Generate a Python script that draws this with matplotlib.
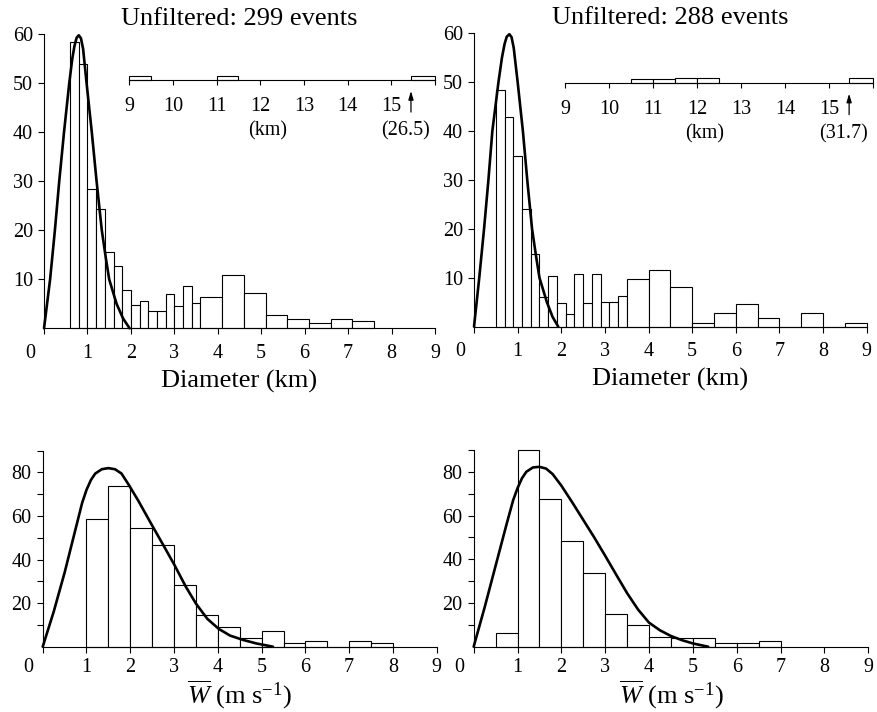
"""Crater-diameter and mean-updraft histograms, unfiltered sets."""
import matplotlib
matplotlib.use("Agg")
import matplotlib.pyplot as plt
import matplotlib.transforms as mtransforms
import numpy as np

plt.rcParams["font.family"] = ["Liberation Serif", "DejaVu Serif"]
plt.rcParams["mathtext.fontset"] = "custom"
plt.rcParams["mathtext.rm"] = "Liberation Serif"
plt.rcParams["mathtext.it"] = "Liberation Serif:italic"

# --- diameter histograms (km) ---
DIAM_EDGES_A = [0.6, 0.8, 1.0, 1.2, 1.4, 1.6, 1.8, 2.0, 2.2, 2.4, 2.6, 2.8,
                3.0, 3.2, 3.4, 3.6, 4.1, 4.6, 5.1, 5.6, 6.1, 6.6, 7.1, 7.6]
DIAM_COUNTS_A = [58.5, 54.0, 28.5, 24.3, 15.6, 12.8, 7.9, 4.7, 5.6, 3.6, 3.6,
                 7.1, 4.6, 8.7, 5.2, 6.3, 10.9, 7.2, 2.7, 1.8, 1.1, 1.8, 1.4]
DIAM_EDGES_B = [0.5, 0.7, 0.9, 1.1, 1.3, 1.5, 1.7, 1.9, 2.1, 2.3, 2.5, 2.7,
                2.9, 3.1, 3.3, 3.5, 4.0, 4.5, 5.0, 5.5, 6.0, 6.5, 7.0, 7.5,
                8.0, 8.5, 9.0]
DIAM_COUNTS_B = [48.3, 42.8, 35.0, 24.1, 14.9, 6.0, 10.4, 4.8, 2.5, 10.8, 4.9,
                 10.8, 5.1, 5.1, 6.3, 9.7, 11.5, 8.1, 0.8, 2.7, 4.6, 1.8, 0.0,
                 2.7, 0.0, 0.8]

# fitted diameter distributions
DIAM_FIT_X_A = [0.0, 0.07, 0.14, 0.25, 0.35, 0.46, 0.58, 0.65, 0.70, 0.75, 0.80,
                0.85, 0.90, 0.98, 1.10, 1.21, 1.33, 1.42, 1.50, 1.67, 1.82, 1.97]
DIAM_FIT_Y_A = [0.0, 5.0, 10.0, 20.0, 30.0, 40.0, 50.0, 55.0, 57.6, 59.3, 59.8,
                59.2, 57.0, 50.0, 40.0, 30.0, 20.0, 14.5, 10.0, 5.0, 2.0, 0.0]
DIAM_FIT_X_B = [0.0, 0.06, 0.12, 0.23, 0.33, 0.42, 0.56, 0.64, 0.70, 0.75, 0.81,
                0.86, 0.91, 1.00, 1.12, 1.22, 1.33, 1.42, 1.50, 1.67, 1.80, 1.93]
DIAM_FIT_Y_B = [0.0, 5.0, 10.0, 20.0, 30.0, 40.0, 50.0, 55.0, 57.8, 59.3, 59.8,
                59.2, 57.0, 50.0, 40.0, 30.0, 20.0, 14.5, 10.0, 5.0, 2.0, 0.0]

# large-diameter tail shown on the 9-16 km strip
TAIL_EDGES_A = [(9.0, 9.5), (11.0, 11.5), (15.45, 16.0)]
TAIL_COUNTS_A = [0.8, 0.8, 0.9]
TAIL_EDGES_B = [(10.5, 11.0), (11.0, 11.5), (11.5, 12.0), (12.0, 12.5), (15.45, 16.0)]
TAIL_COUNTS_B = [0.7, 0.7, 0.9, 0.9, 0.9]
OUTLIER_A = "(26.5)"
OUTLIER_B = "(31.7)"

# --- mean updraft histograms (m/s) ---
W_EDGES_A = [1.0, 1.5, 2.0, 2.5, 3.0, 3.5, 4.0, 4.5, 5.0, 5.5, 6.0, 6.5, 7.0, 7.5, 8.0]
W_COUNTS_A = [58.5, 73.8, 54.3, 46.8, 28.2, 14.5, 8.9, 3.8, 7.4, 1.8, 2.8, 0.0, 2.8, 1.5]
W_EDGES_B = [0.5, 1.0, 1.5, 2.0, 2.5, 3.0, 3.5, 4.0, 4.5, 5.0, 5.5, 6.0, 6.5, 7.0]
W_COUNTS_B = [6.1, 90.0, 67.6, 48.2, 33.6, 15.0, 9.9, 4.6, 4.1, 4.1, 1.5, 1.5, 2.6]

W_FIT_X_A = [0.0, 0.25, 0.5, 0.75, 0.9, 1.0, 1.1, 1.2, 1.35, 1.5, 1.65, 1.8, 1.96,
             2.19, 2.49, 2.75, 3.01, 3.27, 3.50, 3.76, 4.02, 4.28, 4.58, 4.88, 5.26]
W_FIT_Y_A = [0.0, 16.0, 34.0, 54.0, 66.0, 72.0, 76.5, 79.5, 81.5, 82.0, 81.5, 79.5,
             74.5, 66.8, 56.0, 46.8, 37.5, 27.5, 19.8, 12.8, 8.2, 5.1, 3.1, 1.5, 0.0]
W_FIT_X_B = [0.0, 0.25, 0.5, 0.75, 0.9, 1.0, 1.1, 1.2, 1.35, 1.5, 1.65, 1.8, 2.0,
             2.25, 2.5, 2.75, 3.0, 3.25, 3.5, 3.75, 4.0, 4.25, 4.5, 4.75, 5.0, 5.35]
W_FIT_Y_B = [0.0, 18.0, 37.0, 56.0, 67.0, 72.5, 77.0, 80.0, 82.0, 82.3, 81.5, 79.0,
             73.7, 66.0, 58.0, 50.0, 41.6, 33.0, 24.5, 17.0, 11.0, 7.5, 4.9, 3.0, 1.5, 0.0]

TITLES = ["Unfiltered: 299 events", "Unfiltered: 288 events"]
DIAM_LABEL = "Diameter (km)"
W_LABEL = r"$\overline{W}$ (m s$^{-1}$)"

TICK_FS = 14.5
LABEL_FS = 19
BAR_LW = 0.8
FIT_LW = 1.9


def _style_axes(ax, fig, ymax, ylabeled, yminor, xpad):
    for side in ("top", "right"):
        ax.spines[side].set_visible(False)
    for side in ("left", "bottom"):
        ax.spines[side].set_linewidth(0.8)
    ax.set_xlim(0, 9)
    ax.set_ylim(0, ymax)
    ax.set_xticks(range(10))
    ax.set_xticklabels([str(i) for i in range(10)])
    ax.set_yticks(ylabeled)
    ax.set_yticklabels([str(v) for v in ylabeled])
    if yminor:
        ax.set_yticks(yminor, minor=True)
    ax.tick_params(axis="both", which="both", direction="out", length=4,
                   width=0.8, labelsize=TICK_FS)
    ax.tick_params(axis="x", pad=xpad)
    ax.tick_params(axis="y", pad=4)
    # the "0" sits left of the origin so it clears the y axis
    shift = mtransforms.ScaledTranslation(-14 / 100, 0, fig.dpi_scale_trans)
    lab = ax.xaxis.get_major_ticks()[0].label1
    lab.set_transform(lab.get_transform() + shift)


def _histogram(ax, edges, counts, fit_x, fit_y):
    edges = np.asarray(edges)
    ax.bar(edges[:-1], counts, width=np.diff(edges), align="edge",
           facecolor="white", edgecolor="black", linewidth=BAR_LW,
           clip_on=False, zorder=2)
    ax.plot(fit_x, fit_y, color="black", lw=FIT_LW, zorder=3,
            solid_capstyle="round", solid_joinstyle="round", clip_on=False)


def _tail_strip(fig, rect, edges, counts, outlier):
    ax = fig.add_axes(rect)
    for side in ("top", "right", "left"):
        ax.spines[side].set_visible(False)
    ax.spines["bottom"].set_linewidth(0.8)
    ax.set_xlim(9, 16)
    ax.set_ylim(0, 4.1)
    ax.patch.set_alpha(0)
    ax.set_yticks([])
    ax.set_xticks(range(9, 17))
    ax.set_xticklabels([str(i) for i in range(9, 16)] + [""])
    ax.tick_params(axis="x", direction="out", length=3.5, width=0.8,
                   labelsize=TICK_FS, pad=9)
    lefts = [e[0] for e in edges]
    widths = [e[1] - e[0] for e in edges]
    ax.bar(lefts, counts, width=widths, align="edge", facecolor="white",
           edgecolor="black", linewidth=BAR_LW, clip_on=False)
    far = edges[-1][0]
    ax.annotate("", xy=(far, -0.55), xycoords=("data", "axes fraction"),
                xytext=(far, -1.6), textcoords=("data", "axes fraction"),
                arrowprops=dict(arrowstyle="-|>,head_length=0.5,head_width=0.15",
                                color="black", lw=0.9, shrinkA=0, shrinkB=0))
    ax.text(far - 0.12, -2.55, outlier, transform=ax.get_xaxis_transform(),
            ha="center", va="center", fontsize=TICK_FS)
    ax.text(12.17, -2.55, "(km)", transform=ax.get_xaxis_transform(),
            ha="center", va="center", fontsize=TICK_FS)
    return ax


def main():
    fig = plt.figure(figsize=(8.77, 7.12), dpi=100)

    ax_da = fig.add_axes([0.0502, 0.5389, 0.4458, 0.4129])
    ax_db = fig.add_axes([0.5405, 0.5412, 0.4478, 0.4121])
    ax_wa = fig.add_axes([0.0487, 0.0917, 0.4493, 0.2753])
    ax_wb = fig.add_axes([0.5401, 0.0917, 0.4499, 0.2763])

    _histogram(ax_da, DIAM_EDGES_A, DIAM_COUNTS_A, DIAM_FIT_X_A, DIAM_FIT_Y_A)
    _histogram(ax_db, DIAM_EDGES_B, DIAM_COUNTS_B, DIAM_FIT_X_B, DIAM_FIT_Y_B)
    _histogram(ax_wa, W_EDGES_A, W_COUNTS_A, W_FIT_X_A, W_FIT_Y_A)
    _histogram(ax_wb, W_EDGES_B, W_COUNTS_B, W_FIT_X_B, W_FIT_Y_B)

    for ax, title in zip((ax_da, ax_db), TITLES):
        _style_axes(ax, fig, 60, [10, 20, 30, 40, 50, 60], None, xpad=7)
        ax.set_title(title, fontsize=LABEL_FS, pad=7)
        ax.set_xlabel(DIAM_LABEL, fontsize=LABEL_FS, labelpad=5)
    for ax in (ax_wa, ax_wb):
        _style_axes(ax, fig, 90, [20, 40, 60, 80], [10, 30, 50, 70, 90], xpad=4)
        ax.set_xlabel(W_LABEL, fontsize=LABEL_FS, labelpad=1)

    _tail_strip(fig, [0.1474, 0.8876, 0.3486, 0.0281],
                TAIL_EDGES_A, TAIL_COUNTS_A, OUTLIER_A)
    _tail_strip(fig, [0.6446, 0.8839, 0.3512, 0.0281],
                TAIL_EDGES_B, TAIL_COUNTS_B, OUTLIER_B)

    fig.savefig("out.png", dpi=100, facecolor="white")
    plt.close(fig)


if __name__ == "__main__":
    main()
